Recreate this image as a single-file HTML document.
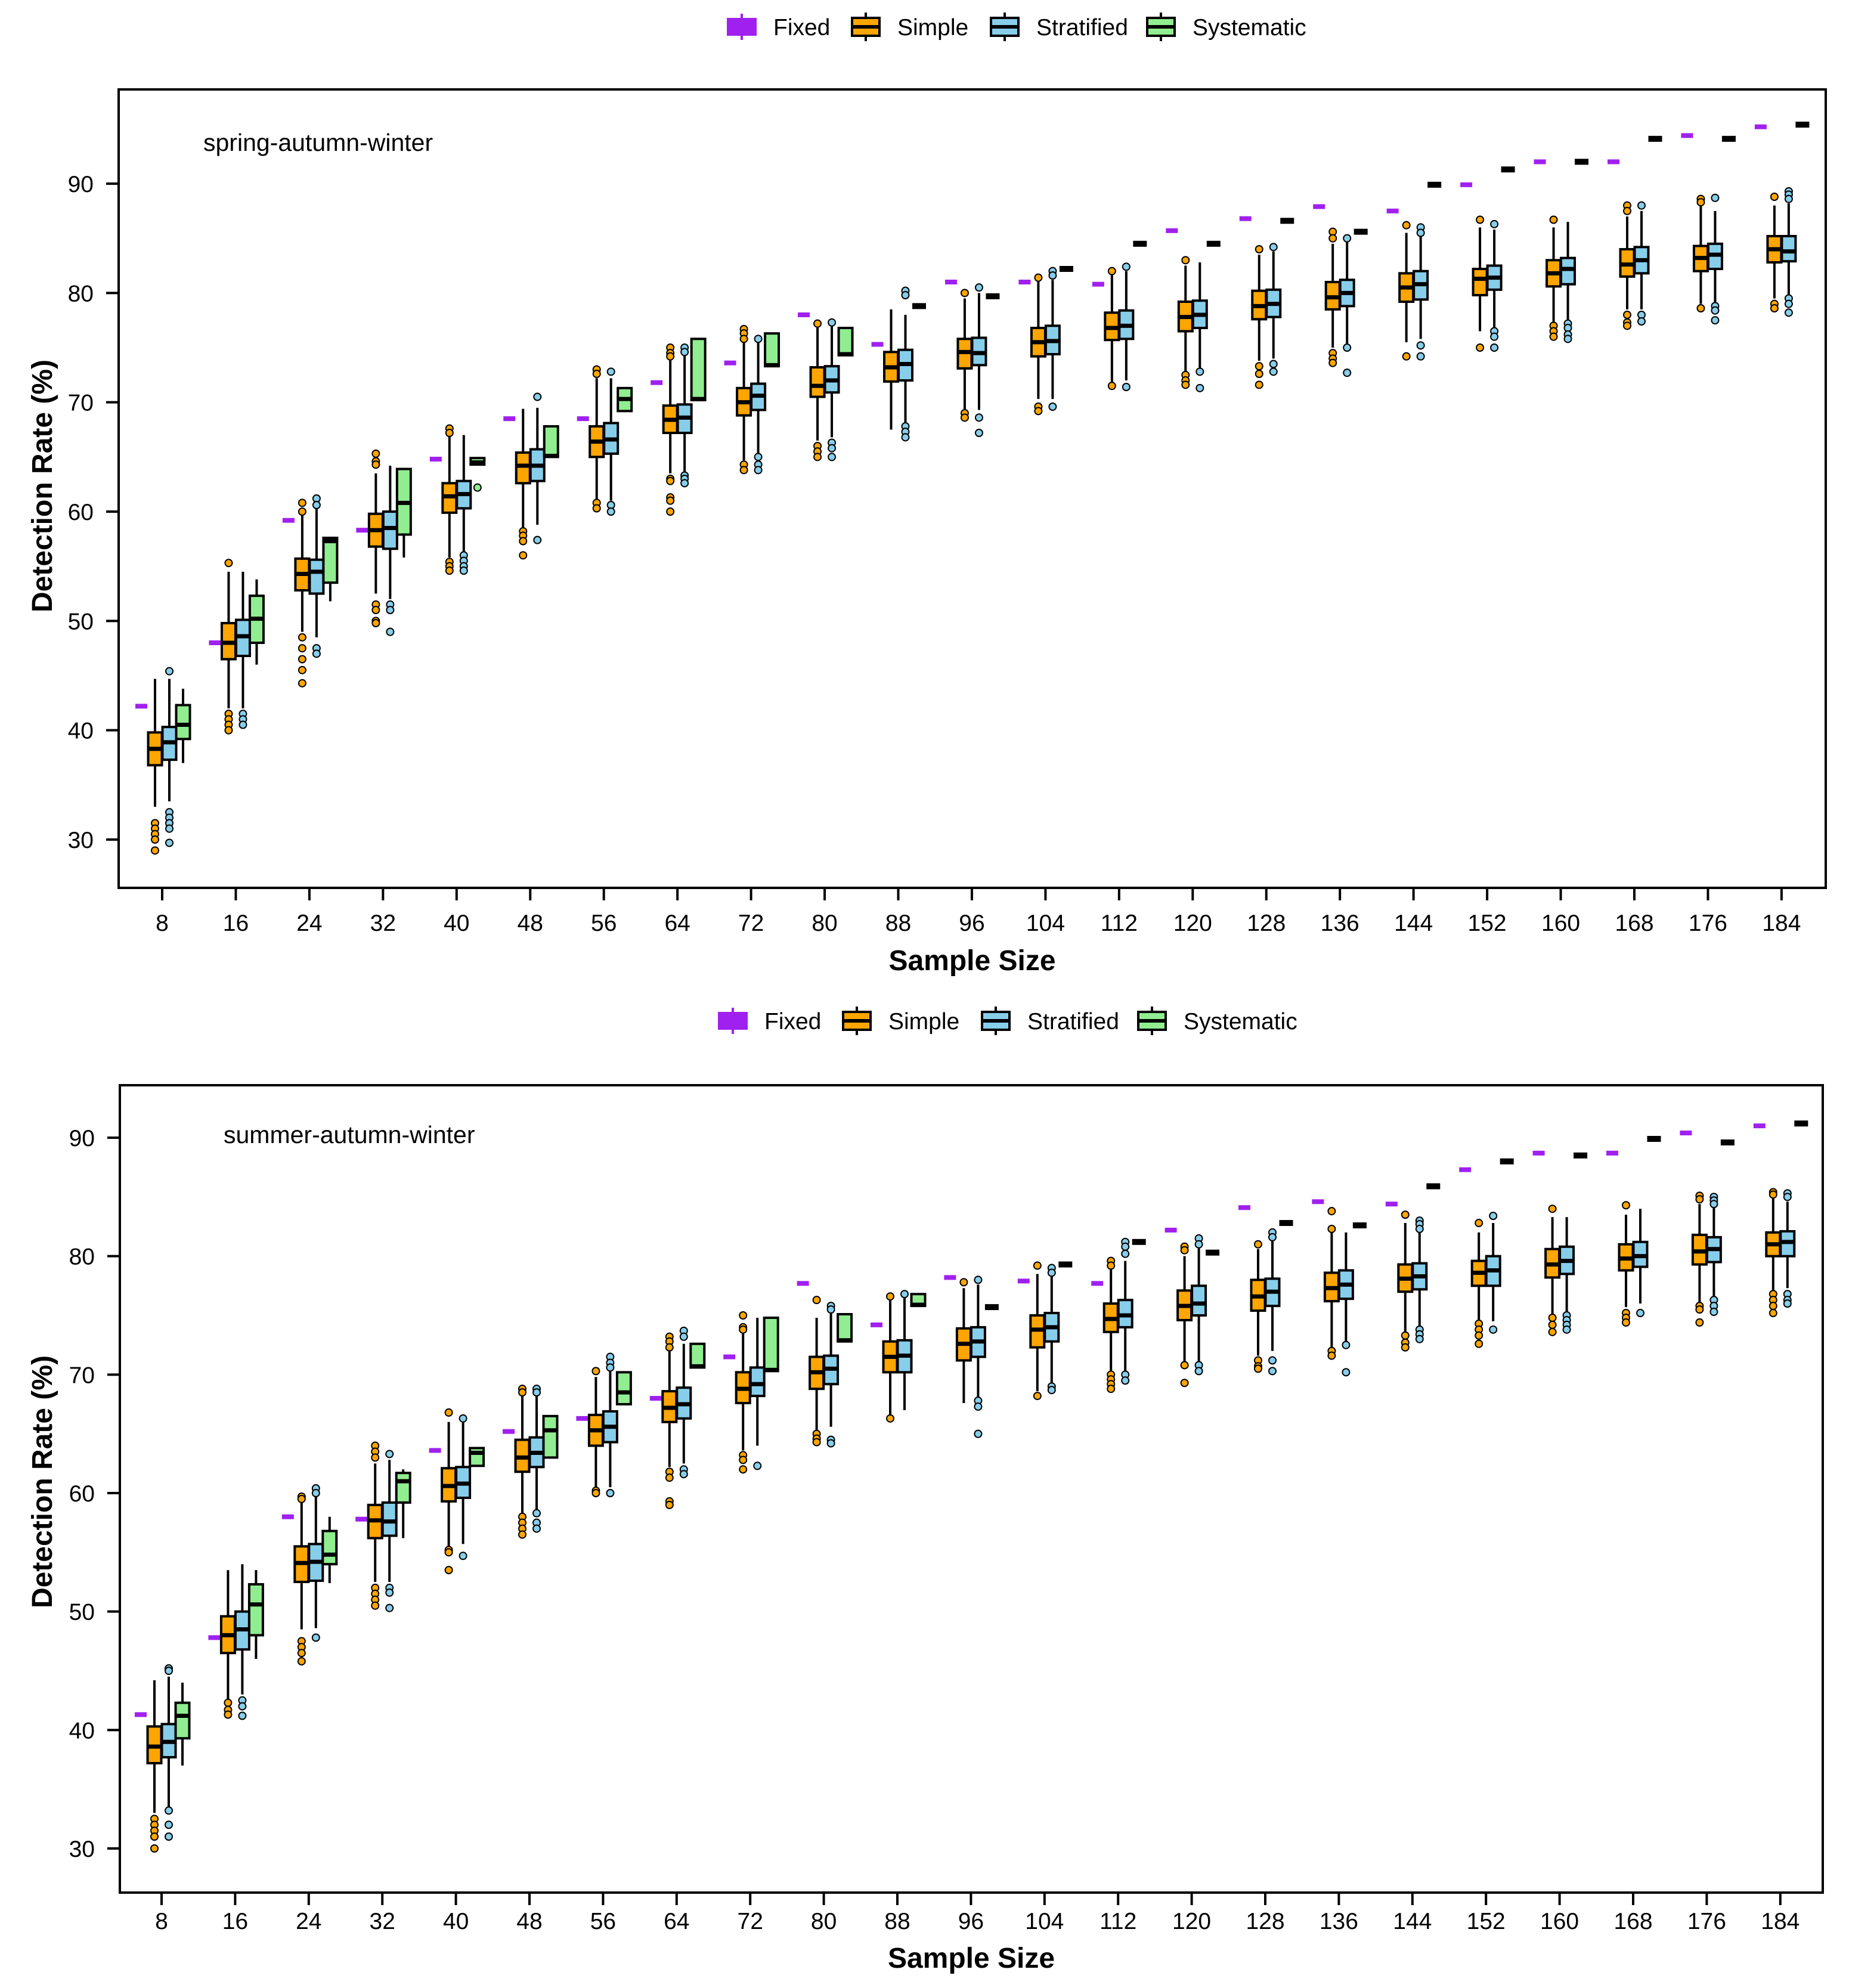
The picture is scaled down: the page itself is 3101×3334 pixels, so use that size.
<!DOCTYPE html>
<html><head><meta charset="utf-8">
<style>
html,body{margin:0;padding:0;background:#fff;}
svg text{font-family:"Liberation Sans",Arial,sans-serif;}
</style></head>
<body>
<svg id="chart" width="3101" height="3329" viewBox="0 0 3101 3329" xmlns="http://www.w3.org/2000/svg">
<rect x="0" y="0" width="3101" height="3329" fill="#fff"/>
</svg>
<script>
const categories=[8,16,24,32,40,48,56,64,72,80,88,96,104,112,120,128,136,144,152,160,168,176,184];
const yTicks=[30,40,50,60,70,80,90];
// Panel 1: spring-autumn-winter
const p1Fixed=[42.2,48,59.2,58.3,64.8,68.5,68.5,71.8,73.6,78,75.3,81,81,80.8,85.7,86.8,87.9,87.5,89.9,92,92,94.4,95.2];
const p1Simple=[[33,36.8,38.3,39.8,44.7],[42,46.5,48,49.8,54.5],[49,52.8,54.3,55.7,59.8],[52.5,56.8,58.3,59.8,63.5],[55.8,59.9,61.4,62.6,66.9],[58.5,62.6,64.2,65.4,69.4],[61,65,66.4,67.8,72.2],[63.5,67.2,68.4,69.7,74],[64.7,68.8,70,71.3,75.5],[66.5,70.5,71.5,73.2,77],[67.5,71.9,73.2,74.6,78.5],[69,73.1,74.6,75.8,79.5],[70.3,74.2,75.5,76.8,81.2],[71.8,75.7,76.8,78.2,82],[72.8,76.5,77.8,79.2,82.5],[73.8,77.6,78.8,80.2,83.5],[75,78.5,79.6,81,84.5],[75.5,79.2,80.5,81.8,85.5],[76.5,79.8,81.3,82.2,86],[77,80.6,81.8,83,86],[78.5,81.5,82.6,84,87],[79,82,83.2,84.3,88],[79.5,82.8,84,85.2,88]];
const p1SimpleOut=[[31.5,31,30.5,30,29],[55.3,41.5,41,40.5,40],[60.8,60,48.5,47.5,46.5,45.5,44.3],[65.3,64.6,64.3,51.5,51,50,49.8],[67.6,67.2,55.4,55,54.6],[58.2,57.8,57.3,56],[73,72.6,60.8,60.3],[75,74.5,74.2,63,62.8,61.3,61,60],[76.7,76.3,75.8,64.3,63.8],[77.2,66,65.5,65],[],[80,69,68.6],[81.4,69.6,69.2],[82,71.5],[83,72.5,72,71.6],[84,73.3,72.6,71.6],[85.6,85,74.5,74,73.6],[86.2,74.2],[86.7,75],[86.7,77,76.5,76],[88,87.5,78,77.3,77],[88.6,88.3,78.6],[88.8,79,78.6]];
const p1Strat=[[33.5,37.3,38.9,40.3,44.7],[42,46.8,48.6,50.1,54.5],[48.5,52.5,54.5,55.6,60.3],[52,56.6,58.5,60,64.2],[56,60.3,61.6,62.8,67],[58.8,62.8,64.2,65.7,69.5],[61,65.3,66.6,68.1,72.2],[63.5,67.2,68.6,69.8,74.3],[65.2,69.3,70.6,71.7,75.6],[66.8,70.9,72,73.3,77],[68,72,73.5,74.8,78],[69.3,73.4,74.5,75.9,80],[70.3,74.4,75.6,77,81.2],[72,75.8,77,78.4,82],[73,76.8,78,79.3,82.8],[74,77.8,79,80.3,83.8],[75.3,78.8,80,81.2,84.7],[75.8,79.4,80.8,82,85.5],[76.8,80.3,81.4,82.5,85.8],[77.5,80.8,82.2,83.2,86.5],[78.5,81.8,83,84.2,87.5],[79,82.2,83.5,84.5,87.5],[79.5,82.9,83.8,85.2,88.2]];
const p1StratOut=[[45.4,32.5,32,31.5,31,29.7],[41.5,41,40.5],[61.2,60.6,47.5,47],[51.5,51,49],[56,55.5,55,54.6],[70.5,57.4],[72.8,60.6,60],[75,74.6,63.3,63,62.6],[75.8,65,64.3,63.8],[77.3,66.3,65.8,65],[80.2,79.8,67.8,67.3,66.8],[80.5,68.6,67.2],[82,81.6,69.6],[82.4,71.4],[72.8,71.3],[84.2,73.5,72.8],[85,75,72.7],[86,85.5,75.2,74.2],[86.3,76.5,76,75],[77.2,76.8,76.2,75.8],[88,78,77.4],[88.7,78.8,78.4,77.5],[89.3,89,88.6,79.5,79,78.2]];
const p1Syst=[[37,39.2,40.5,42.3,43.8],[46,48,50.2,52.3,53.8],[51.8,53.5,57.3,57.6,57.6],[55.8,57.9,60.8,63.9,63.9],[64.3,64.3,64.5,64.9,65],[65,65,65.1,67.8,67.8],[69.2,69.2,70.3,71.3,71.3],[70.2,70.2,70.3,75.8,75.8],[73.3,73.3,73.4,76.3,76.3],[74.3,74.3,74.4,76.8,76.8],[78.8,78.8,78.8,78.8,78.8],[79.7,79.7,79.7,79.7,79.7],[82.2,82.2,82.2,82.2,82.2],[84.5,84.5,84.5,84.5,84.5],[84.5,84.5,84.5,84.5,84.5],[86.6,86.6,86.6,86.6,86.6],[85.6,85.6,85.6,85.6,85.6],[89.9,89.9,89.9,89.9,89.9],[91.3,91.3,91.3,91.3,91.3],[92,92,92,92,92],[94.1,94.1,94.1,94.1,94.1],[94.1,94.1,94.1,94.1,94.1],[95.4,95.4,95.4,95.4,95.4]];
const p1SystOut=[[],[],[],[],[62.2],[],[],[],[],[],[],[],[],[],[],[],[],[],[],[],[],[],[]];
// Panel 2: summer-autumn-winter
const p2Fixed=[41.3,47.8,58,57.8,63.6,65.2,66.3,68,71.5,77.7,74.2,78.2,77.9,77.7,82.2,84.1,84.6,84.4,87.3,88.7,88.7,90.4,91];
const p2Simple=[[33,37.2,38.6,40.3,44.2],[42.5,46.5,48,49.6,53.5],[48.5,52.5,54.1,55.5,59.2],[52.5,56.2,57.7,59,62.5],[55.5,59.3,60.6,62.1,66],[58,61.8,63,64.5,68.2],[60.3,64,65.3,66.6,69.8],[62.2,66,67.2,68.6,72],[63.6,67.6,68.8,70.2,73.5],[65.3,68.8,70.2,71.5,74.8],[66.5,70.2,71.5,72.8,76.3],[67.6,71.2,72.6,73.9,77.3],[68.6,72.3,73.8,75,78.5],[70.3,73.6,74.7,76,79],[70.8,74.6,75.8,77.1,80],[71.6,75.4,76.6,78,80.6],[72.3,76.2,77.3,78.6,82],[73.5,77,78.1,79.3,82.8],[74.5,77.5,78.6,79.6,82],[75,78.2,79.3,80.6,83.3],[75.7,78.8,79.8,81,83.5],[76,79.3,80.4,81.8,84.4],[77,80,81,82,85]];
const p2SimpleOut=[[32.5,32,31.5,31,30],[42.3,41.7,41.3],[59.7,59.5,47.5,47,46.5,45.8],[64,63.5,63,52,51.5,51,50.5],[66.8,55.2,55,53.5],[68.8,68.5,58,57.5,57,56.5],[70.3,60.2,60],[73.2,72.8,72.3,61.8,61.3,59.3,59],[75,74,73.8,63.2,62.8,62],[76.3,65,64.6,64.3],[76.6,66.3],[77.8],[79.2,68.2],[79.6,79.2,70,69.6,69.2,68.8],[80.8,80.5,70.8,69.3],[81,71.2,70.7,70.5],[83.8,82.3,72,71.6],[83.5,73.3,72.7,72.3],[82.8,74.3,73.8,73.3,72.6],[84,74.8,74.2,73.6],[84.3,75.2,74.8,74.4],[85.1,84.8,75.8,75.5,74.4],[85.4,85.2,76.8,76.3,75.8,75.2]];
const p2Strat=[[33.5,37.7,39,40.5,44.5],[43,46.8,48.5,50,54],[48.6,52.6,54.2,55.7,59.9],[52.5,56.4,57.6,59.2,62.8],[55.7,59.6,60.8,62.2,66],[58.4,62.2,63.4,64.7,68.4],[60.5,64.3,65.6,66.9,70.8],[62.5,66.3,67.5,68.9,72.6],[64,68.2,69.2,70.6,74.8],[65.6,69.2,70.5,71.6,75.3],[67,70.2,71.6,72.9,76.5],[68,71.5,72.8,74,77.6],[69.2,72.8,74,75.2,78.8],[70.3,74,75,76.3,79.6],[71,75,76,77.5,80.8],[72,75.8,77,78.1,81.5],[72.8,76.4,77.6,78.8,82],[74,77.2,78.3,79.4,82.5],[74.5,77.5,78.8,80,82.8],[75.3,78.5,79.6,80.8,83.3],[76,79.1,80,81.2,84],[76.5,79.5,80.6,81.6,84.2],[77.3,80,81.2,82.1,84.6]];
const p2StratOut=[[45.2,45,33.2,32,31],[42.5,42,41.2],[60.4,60,47.8],[63.3,52,51.6,50.3],[66.3,54.7],[68.8,68.5,58.3,57.5,57],[71.5,71,70.6,60],[73.7,73.2,62,61.6],[62.3],[75.8,75.5,64.5,64.2],[76.8],[78,67.8,67.3,65],[79,78.6,69,68.7],[81.2,80.8,80.2,70,69.5],[81.5,81,70.8,70.3],[82,81.6,71.2,70.3],[72.5,70.2],[83,82.7,82.3,73.8,73.4,73],[83.4,73.8],[75,74.6,74.2,73.8],[75.2],[85,84.7,84.4,76.3,75.8,75.3],[85.3,85,76.8,76.3,76]];
const p2Syst=[[37,39.3,41.2,42.3,44],[46,48,50.6,52.3,53.5],[52.4,54,54.8,56.8,58],[56.2,59.2,61,61.7,62],[62.3,62.3,63.4,63.8,63.8],[63,63,65.3,66.5,66.5],[67.5,67.5,68.5,70.2,70.2],[70.6,70.6,70.7,72.6,72.6],[70.3,70.3,70.4,74.8,74.8],[72.8,72.8,72.9,75.1,75.1],[75.8,75.8,75.9,76.8,76.8],[75.7,75.7,75.7,75.7,75.7],[79.3,79.3,79.3,79.3,79.3],[81.2,81.2,81.2,81.2,81.2],[80.3,80.3,80.3,80.3,80.3],[82.8,82.8,82.8,82.8,82.8],[82.6,82.6,82.6,82.6,82.6],[85.9,85.9,85.9,85.9,85.9],[88,88,88,88,88],[88.5,88.5,88.5,88.5,88.5],[89.9,89.9,89.9,89.9,89.9],[89.6,89.6,89.6,89.6,89.6],[91.2,91.2,91.2,91.2,91.2]];
const p2SystOut=[[],[],[],[],[],[],[],[],[],[],[],[],[],[],[],[],[],[],[],[],[],[],[]];

const NS="http://www.w3.org/2000/svg";
const svg=document.getElementById('chart');
function mk(tag,attrs,parent){const e=document.createElementNS(NS,tag);for(const k in attrs)e.setAttribute(k,attrs[k]);(parent||svg).appendChild(e);return e;}
const COL={fixed:"#A020F0",simple:"#FFA500",strat:"#87CEEB",syst:"#90EE90"};

function legend(cx,y){
  const g=mk('g',{});
  
  
  const items=[["Fixed","fixed",0],["Simple","simple",208],["Stratified","strat",441],["Systematic","syst",703]];
  items.forEach(it=>{
    const x=cx+it[2];
    const e=mk('g',{},g);
    
    
    if(it[1]==='fixed'){
      mk('rect',{x:x,y:y-15,width:50,height:30,fill:COL.fixed},e);
      mk('line',{x1:x+25,y1:y-22,x2:x+25,y2:y+22,stroke:COL.fixed,'stroke-width':4},e);
    }else{
      mk('line',{x1:x+25,y1:y-24,x2:x+25,y2:y+24,stroke:"#000",'stroke-width':4},e);
      mk('rect',{x:x+2,y:y-15,width:46,height:30,fill:COL[it[1]],stroke:"#000",'stroke-width':4},e);
      mk('line',{x1:x+2,y1:y,x2:x+48,y2:y,stroke:"#000",'stroke-width':6},e);
    }
    const t=mk('text',{x:x+78,y:y+14,'font-size':39,fill:"#000"},e);
    t.textContent=it[0];
  });
}

function panel(cfg){
  const {L,R,T,B,y30,y90,x8,dx,label,lx,ly,fixed,simple,simpleOut,strat,stratOut,syst,systOut,pid,xlabY,ylabY,tickOff}=cfg;
  const ys=v=>y30+(v-30)*(y90-y30)/60;
  const xs=c=>x8+(c-8)/8*dx;
  const g=mk('g',{});
  
  
  yTicks.forEach(v=>{
    const y=ys(v);
    mk('line',{x1:L-21,y1:y,x2:L,y2:y,stroke:"#000",'stroke-width':4},g);
    const t=mk('text',{x:L-42,y:y+14,'font-size':39,'text-anchor':'end',fill:"#000"},g);
    
    
    t.textContent=v;
  });
  categories.forEach(c=>{
    const x=xs(c);
    mk('line',{x1:x,y1:B,x2:x,y2:B+21,stroke:"#000",'stroke-width':4},g);
    const t=mk('text',{x:x,y:B+tickOff,'font-size':39,'text-anchor':'middle',fill:"#000"},g);
    
    
    t.textContent=c;
  });
  const xl=mk('text',{x:(L+R)/2,y:xlabY,'font-size':48,'font-weight':'bold','text-anchor':'middle',fill:"#000"},g);
  
  
  xl.textContent="Sample Size";
  const yl=mk('text',{x:0,y:0,'font-size':48,'font-weight':'bold','text-anchor':'middle',fill:"#000",transform:`translate(87,${ylabY}) rotate(-90)`},g);
  
  
  yl.textContent="Detection Rate (%)";
  const pl=mk('text',{x:lx,y:ly,'font-size':41,fill:"#000"},g);
  
  
  pl.textContent=label;

  function box(x,d,outs,color,name){
    const bg=mk('g',{},g);
    
    
    const w=23;
    const [lo,q1,md,q3,hi]=d;
    if(Math.abs(q3-q1)<0.01){
      mk('rect',{x:x-w/2,y:ys(md)-5,width:w,height:10,fill:"#000"},bg);
    }else{
      mk('line',{x1:x,y1:ys(lo),x2:x,y2:ys(hi),stroke:"#000",'stroke-width':4},bg);
      mk('rect',{x:x-w/2,y:ys(q3),width:w,height:ys(q1)-ys(q3),fill:color,stroke:"#000",'stroke-width':4},bg);
      mk('line',{x1:x-w/2,y1:ys(md),x2:x+w/2,y2:ys(md),stroke:"#000",'stroke-width':7},bg);
    }
    (outs||[]).forEach(o=>{
      mk('circle',{cx:x,cy:ys(o),r:6,fill:color,stroke:"#000",'stroke-width':2},bg);
    });
  }
  categories.forEach((c,i)=>{
    const x=xs(c);
    const f=mk('rect',{x:x-35-10,y:ys(fixed[i])-4,width:20,height:8,fill:COL.fixed},g);
    
    
    box(x-12,simple[i],simpleOut[i],COL.simple,'simple-box');
    box(x+12,strat[i],stratOut[i],COL.strat,'stratified-box');
    box(x+35,syst[i],systOut[i],COL.syst,'systematic-box');
  });
  const fr=mk('rect',{x:L,y:T,width:R-L,height:B-T,fill:"none",stroke:"#000",'stroke-width':4},g);
  
  
}

legend(1219,45);
panel({pid:'spring-autumn-winter',L:199,R:3062,T:150,B:1489,y30:1408,y90:308,x8:272,dx:123.45,label:"spring-autumn-winter",lx:341,ly:253,tickOff:72,
  fixed:p1Fixed,simple:p1Simple,simpleOut:p1SimpleOut,strat:p1Strat,stratOut:p1StratOut,syst:p1Syst,systOut:p1SystOut,xlabY:1627,ylabY:815});
legend(1204,1712);
panel({pid:'summer-autumn-winter',L:201,R:3057,T:1820,B:3174,y30:3100,y90:1908,x8:271,dx:123.4,label:"summer-autumn-winter",lx:375,ly:1917,tickOff:61,
  fixed:p2Fixed,simple:p2Simple,simpleOut:p2SimpleOut,strat:p2Strat,stratOut:p2StratOut,syst:p2Syst,systOut:p2SystOut,xlabY:3300,ylabY:2485});
</script>
</body></html>
